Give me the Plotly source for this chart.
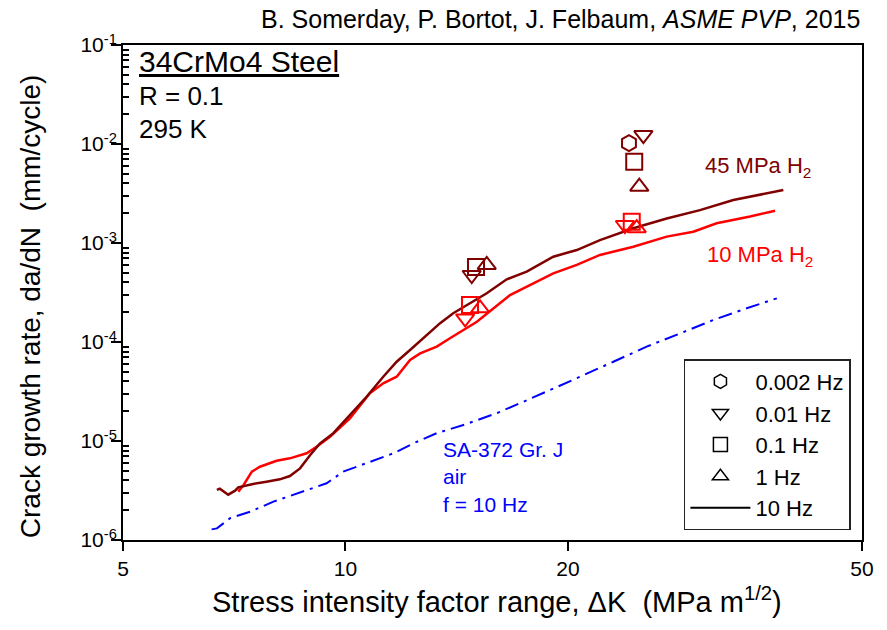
import numpy as np
import plotly.graph_objects as go

FONT = "Liberation Sans, Arial, sans-serif"
DARK_RED = "#800000"
RED = "#ff0000"
BLUE = "#0000ff"

# 45 MPa H2, 10 Hz curve
k_45 = [6.70, 6.76, 6.94, 7.09, 7.16, 7.50, 7.82, 8.15, 8.41, 8.68, 8.96, 9.24, 9.63,
        10.04, 10.68, 11.25, 11.73, 12.23, 12.75, 13.43, 13.99, 14.59, 15.53, 16.53,
        17.59, 19.11, 20.56, 22.10, 24.52, 27.21, 30.18, 33.49, 36.39, 39.13]
da_45 = [3.20e-6, 3.30e-6, 2.87e-6, 3.15e-6, 3.40e-6, 3.68e-6, 3.88e-6, 4.10e-6, 4.43e-6,
         5.29e-6, 7.22e-6, 9.48e-6, 1.20e-5, 1.69e-5, 2.80e-5, 4.46e-5, 6.32e-5, 8.30e-5,
         1.09e-4, 1.55e-4, 1.95e-4, 2.36e-4, 3.11e-4, 4.30e-4, 5.13e-4, 7.27e-4, 8.49e-4,
         1.07e-3, 1.41e-3, 1.77e-3, 2.15e-3, 2.72e-3, 3.05e-3, 3.43e-3]

# 10 MPa H2, 10 Hz curve
k_10 = [7.16, 7.28, 7.47, 7.66, 8.07, 8.41, 8.86, 9.14, 9.53, 10.14, 10.79, 11.25, 11.73,
        12.23, 12.62, 13.29, 13.85, 14.44, 15.06, 16.70, 17.96, 19.11, 20.56, 22.10,
        24.52, 27.21, 29.56, 31.79, 35.28, 38.14]
da_10 = [3.08e-6, 3.60e-6, 4.90e-6, 5.50e-6, 6.32e-6, 6.68e-6, 7.51e-6, 8.75e-6, 1.10e-5,
         1.69e-5, 3.03e-5, 3.83e-5, 4.46e-5, 6.58e-5, 7.68e-5, 8.98e-5, 1.09e-4, 1.32e-4,
         1.60e-4, 2.98e-4, 3.92e-4, 4.94e-4, 6.00e-4, 7.57e-4, 9.18e-4, 1.16e-3, 1.30e-3,
         1.58e-3, 1.85e-3, 2.12e-3]

# SA-372 Gr. J in air, f = 10 Hz
k_air = [6.59, 6.70, 6.98, 7.13, 7.43, 7.99, 8.50, 9.05, 9.43, 9.93, 10.68, 11.61, 12.36,
         13.29, 14.44, 16.02, 17.41, 18.72, 20.77, 23.04, 25.56, 28.36, 31.46, 34.91, 38.34]
da_air = [1.28e-6, 1.31e-6, 1.66e-6, 1.75e-6, 1.93e-6, 2.44e-6, 2.85e-6, 3.33e-6, 3.74e-6,
          4.90e-6, 5.96e-6, 7.51e-6, 9.48e-6, 1.20e-5, 1.45e-5, 1.91e-5, 2.49e-5, 3.15e-5,
          4.46e-5, 6.32e-5, 8.98e-5, 1.22e-4, 1.67e-4, 2.19e-4, 2.76e-4]

# single-frequency points (45 MPa)
k45_0002, da45_0002 = [24.19], [1.02e-2]
k45_001, da45_001 = [14.82, 25.30], [4.75e-4, 1.23e-2]
k45_01, da45_01 = [15.02, 24.59], [5.73e-4, 6.62e-3]
k45_1, da45_1 = [15.53, 24.98], [6.00e-4, 3.71e-3]

# single-frequency points (10 MPa)
k10_001, da10_001 = [14.52, 23.89], [1.73e-4, 1.52e-3]
k10_01, da10_01 = [14.74, 24.40], [2.36e-4, 1.64e-3]
k10_1, da10_1 = [15.21, 24.78], [2.19e-4, 1.41e-3]

x_ticks = [5, 10, 20, 50]
y_exps = [-6, -5, -4, -3, -2, -1]

fig = go.Figure()

fig.add_trace(go.Scatter(x=k_air, y=da_air, mode="lines", showlegend=False,
                         line=dict(color=BLUE, width=2, dash="14px,6px,3px,6px")))
fig.add_trace(go.Scatter(x=k_10, y=da_10, mode="lines", showlegend=False,
                         line=dict(color=RED, width=2.5)))
fig.add_trace(go.Scatter(x=k_45, y=da_45, mode="lines", showlegend=False,
                         line=dict(color=DARK_RED, width=2.5)))

point_sets = [
    (k45_0002, da45_0002, "hexagon-open", DARK_RED),
    (k45_001, da45_001, "triangle-down-open", DARK_RED),
    (k45_01, da45_01, "square-open", DARK_RED),
    (k45_1, da45_1, "triangle-up-open", DARK_RED),
    (k10_001, da10_001, "triangle-down-open", RED),
    (k10_01, da10_01, "square-open", RED),
    (k10_1, da10_1, "triangle-up-open", RED),
]
for xs, ys, sym, col in point_sets:
    fig.add_trace(go.Scatter(x=xs, y=ys, mode="markers", showlegend=False,
                             marker=dict(symbol=sym, size=16, color=col,
                                         line=dict(color=col, width=2))))

# legend entries (black)
for name, sym in [("0.002 Hz", "hexagon-open"), ("0.01 Hz", "triangle-down-open"),
                  ("0.1 Hz", "square-open"), ("1 Hz", "triangle-up-open")]:
    fig.add_trace(go.Scatter(x=[None], y=[None], mode="markers", name=name,
                             marker=dict(symbol=sym, size=14, color="black",
                                         line=dict(color="black", width=1.5))))
fig.add_trace(go.Scatter(x=[None], y=[None], mode="lines", name="10 Hz",
                         line=dict(color="black", width=2)))

minor_y = [m * 10.0 ** e for e in range(-6, -1) for m in range(2, 10)]

fig.update_xaxes(
    type="log", range=[np.log10(5), np.log10(50)],
    tickvals=x_ticks, ticktext=[str(v) for v in x_ticks],
    ticks="outside", ticklen=9, tickwidth=2, tickcolor="black",
    showline=True, linewidth=2, linecolor="black", mirror=True,
    showgrid=False, zeroline=False, tickfont=dict(size=21, color="black"),
)
fig.update_yaxes(
    type="log", range=[-6, -1],
    tickvals=[10.0 ** e for e in y_exps],
    ticktext=["10<sup>%d</sup>" % e for e in y_exps],
    ticks="outside", ticklen=10, tickwidth=2, tickcolor="black", ticklabelstandoff=-10,
    minor=dict(tickvals=minor_y, ticks="inside", ticklen=6, tickwidth=2, tickcolor="black"),
    showline=True, linewidth=2, linecolor="black", mirror=True,
    showgrid=False, zeroline=False, tickfont=dict(size=21, color="black"),
)

ann = [
    dict(text="B. Somerday, P. Bortot, J. Felbaum, <i>ASME PVP</i>, 2015",
         x=1.0, y=1.053, xanchor="right", yanchor="middle", font=dict(size=25)),
    dict(text="<u>34CrMo4 Steel</u>", x=0.019, y=0.966, xanchor="left", yanchor="middle",
         font=dict(size=30)),
    dict(text="R = 0.1", x=0.019, y=0.897, xanchor="left", yanchor="middle", font=dict(size=26)),
    dict(text="295 K", x=0.019, y=0.830, xanchor="left", yanchor="middle", font=dict(size=26)),
    dict(text="45 MPa H<sub>2</sub>", x=0.785, y=0.753, xanchor="left", yanchor="middle",
         font=dict(size=22, color=DARK_RED)),
    dict(text="10 MPa H<sub>2</sub>", x=0.788, y=0.573, xanchor="left", yanchor="middle",
         font=dict(size=22, color=RED)),
    dict(text="SA-372 Gr. J<br>air<br>f = 10 Hz", x=0.430, y=0.127, xanchor="left",
         yanchor="middle", align="left", font=dict(size=21, color=BLUE)),
    dict(text="Stress intensity factor range, \u0394K  (MPa m<sup>1/2</sup>)",
         x=0.506, y=-0.121, xanchor="center", yanchor="middle", font=dict(size=29)),
    dict(text="Crack growth rate, da/dN  (mm/cycle)", x=-0.124, y=0.473, textangle=-90,
         xanchor="center", yanchor="middle", font=dict(size=28)),
]
for a in ann:
    a.setdefault("xref", "paper")
    a.setdefault("yref", "paper")
    a["showarrow"] = False
    fig.add_annotation(**a)

# the page body adds an 8px offset, so margins are shifted to keep the plot area in place
fig.update_layout(
    width=887, height=630,
    margin=dict(l=115, r=33, t=37, b=98),
    paper_bgcolor="white", plot_bgcolor="white",
    font=dict(family=FONT, color="black", size=20),
    legend=dict(x=0.985, y=0.02, xanchor="right", yanchor="bottom",
                bgcolor="white", bordercolor="#222", borderwidth=1.5,
                font=dict(size=22), itemwidth=60, tracegroupgap=0),
)

fig.write_html("out.html")
